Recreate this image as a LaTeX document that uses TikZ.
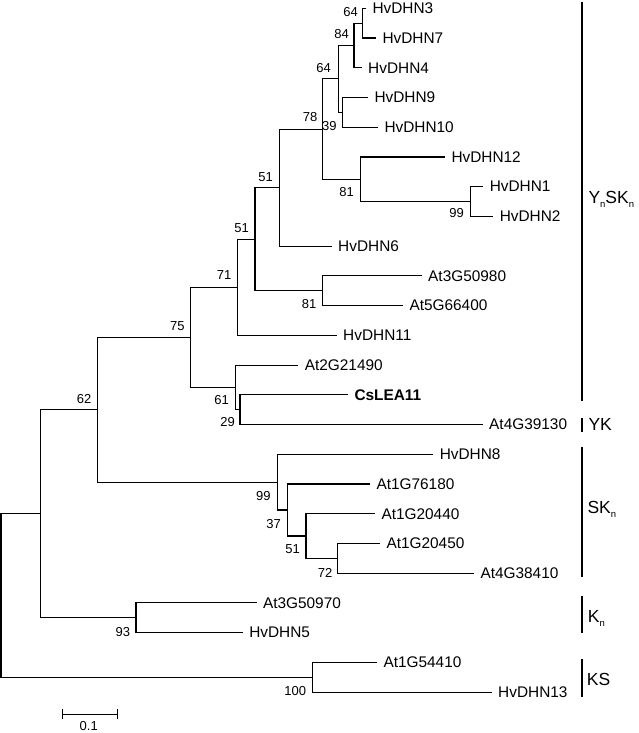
\documentclass[tikz,border=0pt]{standalone}
\usepackage{fontspec}
\setmainfont{Liberation Sans}
\begin{document}
\begin{tikzpicture}[x=1pt,y=-1pt,
  br/.style={line width=1.1pt},
  bar/.style={line width=1.9pt},
  leaf/.style={anchor=west, inner sep=0pt, xshift=6.3pt, font=\fontsize{15.4}{17}\selectfont},
  bs/.style={inner sep=0pt, font=\fontsize{13}{14}\selectfont},
  grp/.style={anchor=base west, inner sep=0pt, font=\fontsize{17.5}{19}\selectfont}]
\useasboundingbox (0,0) rectangle (638,733);
\newcommand{\sbn}{\raisebox{-4pt}{\fontsize{9.5}{10}\selectfont n}}
% internal nodes
\coordinate (R) at (1,595.5);
\coordinate (B) at (40.7,513.74);
\coordinate (A) at (97.7,409.72);
\coordinate (n75) at (190.7,337.31);
\coordinate (n71) at (237.7,287.26);
\coordinate (n51lo) at (255,239.18);
\coordinate (n81lo) at (322.7,290.74);
\coordinate (n51up) at (279.3,187.61);
\coordinate (n78) at (322.7,129.08);
\coordinate (n81up) at (360.3,179.25);
\coordinate (n99up) at (470.5,201.55);
\coordinate (n64lo) at (338.3,78.91);
\coordinate (n84) at (354,45.46);
\coordinate (n64up) at (362.5,23.17);
\coordinate (n39) at (342.3,112.36);
\coordinate (n61) at (235.7,387.36);
\coordinate (n29) at (240,409.66);
\coordinate (n99sk) at (277.7,482.12);
\coordinate (n37) at (287.3,510.0);
\coordinate (n51sk) at (306,536.01);
\coordinate (n72) at (337.7,558.31);
\coordinate (n93) at (136,617.77);
\coordinate (n100) at (312.3,677.23);
% leaf ends
\coordinate (e3) at (366,8.3);
\coordinate (e7) at (376,38.03);
\coordinate (e4) at (361.7,67.76);
\coordinate (e9) at (368,97.49);
\coordinate (e10) at (378,127.22);
\coordinate (e12) at (445,156.95);
\coordinate (e1) at (483.3,186.68);
\coordinate (e2) at (493.3,216.41);
\coordinate (e6) at (331.7,246.14);
\coordinate (eA3) at (421.7,275.87);
\coordinate (eA5) at (403,305.6);
\coordinate (e11) at (336.7,335.33);
\coordinate (eA2) at (298.3,365.06);
\coordinate (eCs) at (348,394.79);
\coordinate (eA4) at (482.7,424.52);
\coordinate (e8) at (433.3,454.25);
\coordinate (eB1) at (370,483.98);
\coordinate (eB2) at (375,513.71);
\coordinate (eB3) at (380,543.44);
\coordinate (eB4) at (474,573.17);
\coordinate (eC1) at (256.5,602.9);
\coordinate (e5) at (242.8,632.63);
\coordinate (eD1) at (377,662.36);
\coordinate (e13) at (491.7,692.09);
% branches
\draw[br] (R) |- (B); \draw[br] (R) |- (n100);
\draw[br] (B) |- (A); \draw[br] (B) |- (n93);
\draw[br] (A) |- (n75); \draw[br] (A) |- (n99sk);
\draw[br] (n75) |- (n71); \draw[br] (n75) |- (n61);
\draw[br] (n71) |- (n51lo); \draw[br] (n71) |- (e11);
\draw[br] (n51lo) |- (n51up); \draw[br] (n51lo) |- (n81lo);
\draw[br] (n81lo) |- (eA3); \draw[br] (n81lo) |- (eA5);
\draw[br] (n51up) |- (n78); \draw[br] (n51up) |- (e6);
\draw[br] (n78) |- (n64lo); \draw[br] (n78) |- (n81up);
\draw[br] (n81up) |- (e12); \draw[br] (n81up) |- (n99up);
\draw[br] (n99up) |- (e1); \draw[br] (n99up) |- (e2);
\draw[br] (n64lo) |- (n84); \draw[br] (n64lo) |- (n39);
\draw[br] (n84) |- (n64up); \draw[br] (n84) |- (e4);
\draw[br] (n64up) |- (e3); \draw[br] (n64up) |- (e7);
\draw[br] (n39) |- (e9); \draw[br] (n39) |- (e10);
\draw[br] (n61) |- (eA2); \draw[br] (n61) |- (n29);
\draw[br] (n29) |- (eCs); \draw[br] (n29) |- (eA4);
\draw[br] (n99sk) |- (e8); \draw[br] (n99sk) |- (n37);
\draw[br] (n37) |- (eB1); \draw[br] (n37) |- (n51sk);
\draw[br] (n51sk) |- (eB2); \draw[br] (n51sk) |- (n72);
\draw[br] (n72) |- (eB3); \draw[br] (n72) |- (eB4);
\draw[br] (n93) |- (eC1); \draw[br] (n93) |- (e5);
\draw[br] (n100) |- (eD1); \draw[br] (n100) |- (e13);
% leaf labels
\node[leaf] (t3) at (e3) {HvDHN3};
\node[leaf] (t7) at (e7) {HvDHN7};
\node[leaf] (t4) at (e4) {HvDHN4};
\node[leaf] (t9) at (e9) {HvDHN9};
\node[leaf] (t10) at (e10) {HvDHN10};
\node[leaf] (t12) at (e12) {HvDHN12};
\node[leaf] (t1) at (e1) {HvDHN1};
\node[leaf] (t2) at (e2) {HvDHN2};
\node[leaf] (t6) at (e6) {HvDHN6};
\node[leaf] (tA3) at (eA3) {At3G50980};
\node[leaf] (tA5) at (eA5) {At5G66400};
\node[leaf] (t11) at (e11) {HvDHN11};
\node[leaf] (tA2) at (eA2) {At2G21490};
\node[leaf] (tCs) at (eCs) {\bfseries CsLEA11};
\node[leaf] (tA4) at (eA4) {At4G39130};
\node[leaf] (t8) at (e8) {HvDHN8};
\node[leaf] (tB1) at (eB1) {At1G76180};
\node[leaf] (tB2) at (eB2) {At1G20440};
\node[leaf] (tB3) at (eB3) {At1G20450};
\node[leaf] (tB4) at (eB4) {At4G38410};
\node[leaf] (tC1) at (eC1) {At3G50970};
\node[leaf] (t5) at (e5) {HvDHN5};
\node[leaf] (tD1) at (eD1) {At1G54410};
\node[leaf] (t13) at (e13) {HvDHN13};
% bootstrap values
\node[bs] (b64u) at (350.5,12.5) {64};
\node[bs] (b84) at (341.5,34) {84};
\node[bs] (b64l) at (323.7,68) {64};
\node[bs] (b39) at (329.3,126) {39};
\node[bs] (b78) at (310,117) {78};
\node[bs] (b81u) at (346.7,192) {81};
\node[bs] (b99u) at (456.7,213.5) {99};
\node[bs] (b51u) at (265.5,176.7) {51};
\node[bs] (b51l) at (241.7,227.7) {51};
\node[bs] (b71) at (224,275.3) {71};
\node[bs] (b81l) at (309,303.7) {81};
\node[bs] (b75) at (177.3,325.8) {75};
\node[bs] (b61) at (221.7,400.3) {61};
\node[bs] (b29) at (227.5,422.3) {29};
\node[bs] (b62) at (84.2,398.7) {62};
\node[bs] (b99s) at (263.3,495.8) {99};
\node[bs] (b37) at (273.7,523.7) {37};
\node[bs] (b51s) at (292.7,549.2) {51};
\node[bs] (b72) at (325,573) {72};
\node[bs] (b93) at (122.8,632) {93};
\node[bs] (b100) at (295.3,691.3) {100};
% group bars
\coordinate (g1a) at (581.7,1.7); \coordinate (g1b) at (581.7,400.7);
\coordinate (g2a) at (581.7,418.3); \coordinate (g2b) at (581.7,431.7);
\coordinate (g3a) at (581.7,446.7); \coordinate (g3b) at (581.7,576.7);
\coordinate (g4a) at (581.7,596); \coordinate (g4b) at (581.7,633.3);
\coordinate (g5a) at (581.7,659); \coordinate (g5b) at (581.7,696.7);
\draw[bar] (g1a) -- (g1b);
\draw[bar] (g2a) -- (g2b);
\draw[bar] (g3a) -- (g3b);
\draw[bar] (g4a) -- (g4b);
\draw[bar] (g5a) -- (g5b);
\node[grp] (G1) at (588.3,203.3) {Y\sbn SK\sbn};
\node[grp] (G2) at (588.3,430.7) {YK};
\node[grp] (G3) at (587.3,513.3) {SK\sbn};
\node[grp] (G4) at (587.7,622.3) {K\sbn};
\node[grp] (G5) at (586.7,685) {KS};
% scale bar
\coordinate (sL) at (62.7,714.3); \coordinate (sR) at (117.3,714.3);
\draw[br] (sL) -- (sR);
\draw[br] ([yshift=5pt]sL) -- ([yshift=-5pt]sL);
\draw[br] ([yshift=5pt]sR) -- ([yshift=-5pt]sR);
\node[bs] (sl) at (88.7,726.3) {0.1};
\end{tikzpicture}
\end{document}
